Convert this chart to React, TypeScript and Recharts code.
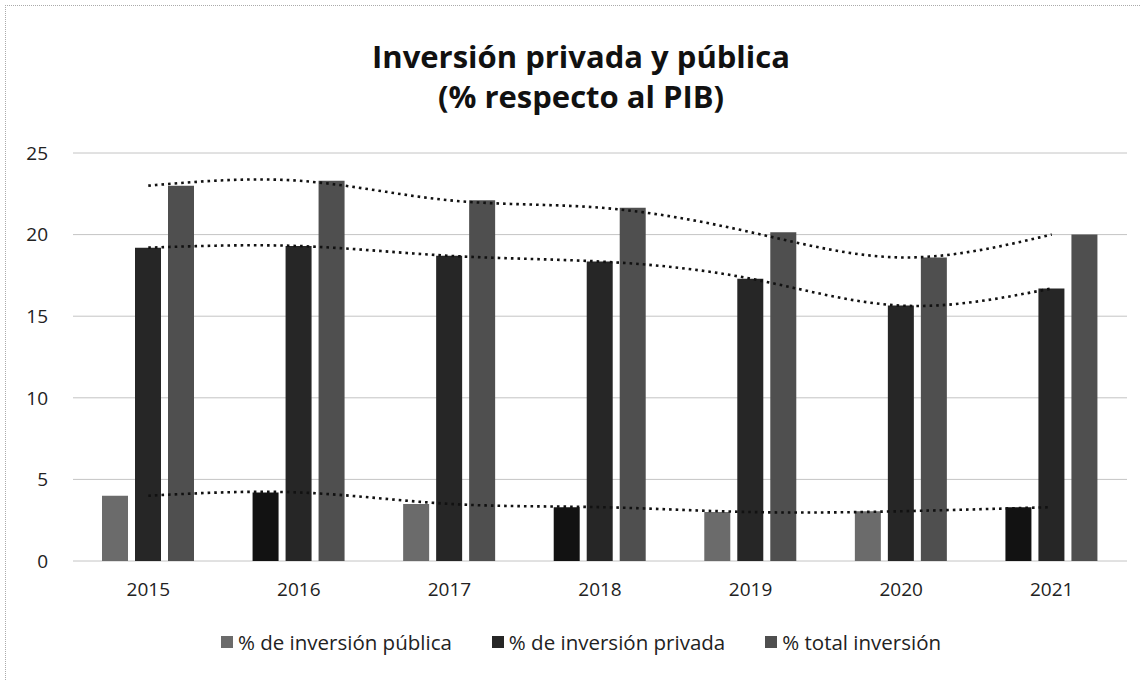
import React from 'react';
import { ComposedChart, Bar, Line, XAxis, YAxis, CartesianGrid, Cell } from 'recharts';

const years = ['2015', '2016', '2017', '2018', '2019', '2020', '2021'];
const publica = [4.0, 4.2, 3.5, 3.3, 3.0, 3.05, 3.3];
const privada = [19.2, 19.3, 18.7, 18.35, 17.3, 15.65, 16.7];
const total = [23.0, 23.3, 22.1, 21.65, 20.15, 18.6, 20.0];
const yTicks = [0, 5, 10, 15, 20, 25];

const SERIES_NAMES = ['% de inversión pública', '% de inversión privada', '% total inversión'];
const COLOR_PUBLICA = '#6b6b6b';
const COLOR_PRIVADA = '#262626';
const COLOR_TOTAL = '#4f4f4f';
// scanned tone of each pública bar (style only)
const PUBLICA_TONES = ['#6b6b6b', '#121212', '#6b6b6b', '#121212', '#6b6b6b', '#6b6b6b', '#121212'];

const data = years.map((y, i) => ({
  year: y,
  publica: publica[i],
  privada: privada[i],
  total: total[i],
}));

const FONT = '"Open Sans", Lato, sans-serif';

const legendItems = [
  { name: SERIES_NAMES[0], color: COLOR_PUBLICA },
  { name: SERIES_NAMES[1], color: COLOR_PRIVADA },
  { name: SERIES_NAMES[2], color: COLOR_TOTAL },
];

function CustomLegend() {
  return (
    <div style={{ display: 'flex', justifyContent: 'center', alignItems: 'center', fontFamily: FONT, fontSize: 20.5, color: '#222' }}>
      {legendItems.map((it, i) => (
        <div key={i} style={{ display: 'flex', alignItems: 'center', marginRight: i < 2 ? 40 : 0 }}>
          <span style={{ display: 'inline-block', width: 12, height: 12, background: it.color, marginRight: 5 }} />
          <span>{it.name}</span>
        </div>
      ))}
    </div>
  );
}

export default function App() {
  return (
    <div style={{ position: 'absolute', left: 0, top: 0, width: 1141, height: 681, background: '#fff', overflow: 'hidden' }}>
      <div style={{ position: 'absolute', left: 5, top: 5, width: 1136, height: 676, borderTop: '1px dotted #aaa', borderLeft: '1px dotted #aaa' }} />
      <div style={{ position: 'absolute', left: 0, width: 1162, top: 36, textAlign: 'center', fontFamily: FONT, fontWeight: 700, fontSize: 31, lineHeight: '40px', color: '#111' }}>
        <div>Inversión privada y pública</div>
        <div>(% respecto al PIB)</div>
      </div>
      <div style={{ position: 'absolute', left: 0, top: 0 }}>
        <ComposedChart
          width={1141}
          height={681}
          data={data}
          margin={{ top: 153, right: 14, bottom: 90, left: 0 }}
          barSize={26}
          barGap={7}
        >
          <CartesianGrid vertical={false} stroke="#c4c4c4" strokeWidth={1} />
          <XAxis
            dataKey="year"
            axisLine={false}
            tickLine={false}
            tickMargin={16}
            tick={{ fontFamily: FONT, fontSize: 19, fill: '#222' }}
          />
          <YAxis
            width={73}
            domain={[0, 25]}
            ticks={yTicks}
            axisLine={false}
            tickLine={false}
            tickMargin={19}
            tick={{ fontFamily: FONT, fontSize: 19, fill: '#222' }}
          />
          <Line dataKey="total" type="natural" stroke="#111" strokeWidth={2.6} strokeDasharray="2.6 4" dot={false} activeDot={false} legendType="none" isAnimationActive={false} />
          <Line dataKey="privada" type="natural" stroke="#111" strokeWidth={2.6} strokeDasharray="2.6 4" dot={false} activeDot={false} legendType="none" isAnimationActive={false} />
          <Line dataKey="publica" type="natural" stroke="#111" strokeWidth={2.6} strokeDasharray="2.6 4" dot={false} activeDot={false} legendType="none" isAnimationActive={false} />
          <Bar dataKey="publica" name={SERIES_NAMES[0]} fill={COLOR_PUBLICA} isAnimationActive={false}>
            {data.map((d, i) => (
              <Cell key={d.year} fill={PUBLICA_TONES[i]} />
            ))}
          </Bar>
          <Bar dataKey="privada" name={SERIES_NAMES[1]} fill={COLOR_PRIVADA} isAnimationActive={false} />
          <Bar dataKey="total" name={SERIES_NAMES[2]} fill={COLOR_TOTAL} isAnimationActive={false} />
        </ComposedChart>
      </div>
      <div style={{ position: 'absolute', left: 0, width: 1162, top: 628 }}>
        <CustomLegend />
      </div>
    </div>
  );
}
